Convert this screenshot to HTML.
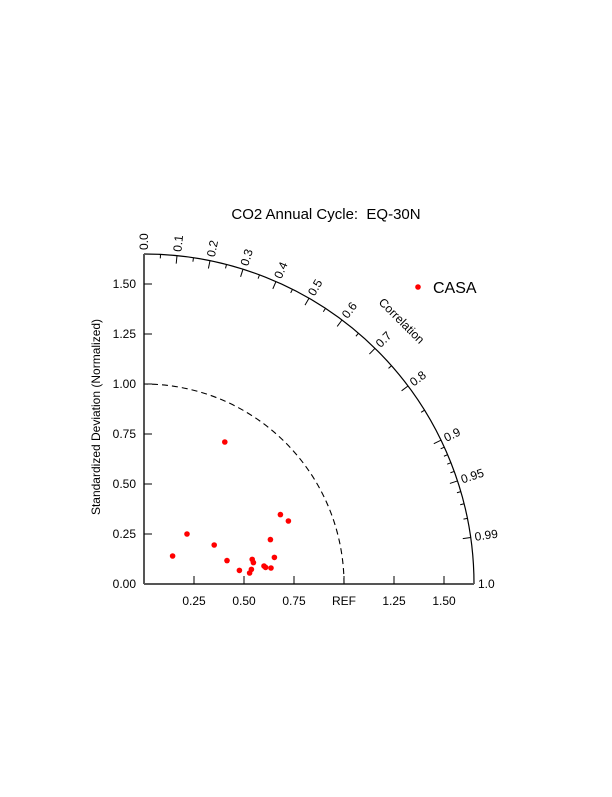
<!DOCTYPE html>
<html><head><meta charset="utf-8"><style>
body{margin:0;background:#fff}
svg text{font-family:"Liberation Sans",Arial,sans-serif;fill:#000}
</style></head><body>
<svg id="c" width="612" height="792" viewBox="0 0 612 792">
<text x="326" y="219" font-size="15" text-anchor="middle">CO2 Annual Cycle:&#160; EQ-30N</text>
<text transform="translate(100,417) rotate(-90)" font-size="12" text-anchor="middle">Standardized Deviation (Normalized)</text>
<text transform="translate(378,303) rotate(45)" font-size="12">Correlation</text>
<circle cx="418" cy="287" r="2.8" fill="#f00"/>
<text x="433" y="293" font-size="16">CASA</text>
<g id="g"></g>
</svg>
<script>
const xs=[0.143,0.215,0.404,0.351,0.415,0.477,0.528,0.537,0.541,0.547,0.600,0.608,0.635,0.632,0.652,0.682,0.722];
const ys=[0.140,0.250,0.710,0.195,0.117,0.068,0.055,0.073,0.123,0.107,0.090,0.083,0.080,0.222,0.133,0.347,0.315];
const stdTicks=[0.25,0.5,0.75,1.0,1.25,1.5];
const stdLabels=["0.25","0.50","0.75","REF","1.25","1.50"];
const yTickLabels=["0.00","0.25","0.50","0.75","1.00","1.25","1.50"];
const corrMajor=[0.0,0.1,0.2,0.3,0.4,0.5,0.6,0.7,0.8,0.9,0.95,0.99,1.0];
const corrMajorLabels=["0.0","0.1","0.2","0.3","0.4","0.5","0.6","0.7","0.8","0.9","0.95","0.99","1.0"];
const corrMinor=[0.05,0.15,0.25,0.35,0.45,0.55,0.65,0.75,0.85,0.91,0.92,0.93,0.94,0.96,0.97,0.98];
const OX=144,OY=584,S=200,RMAX=1.65;
const sx=v=>OX+v*S, sy=v=>OY-v*S;
const g=document.getElementById('g');
const NS='http://www.w3.org/2000/svg';
function mk(t,a){const e=document.createElementNS(NS,t);for(const k in a)e.setAttribute(k,a[k]);g.appendChild(e);return e;}
let e=mk('path',{d:`M${sx(RMAX)},${OY} A${RMAX*S},${RMAX*S} 0 0 0 ${OX},${sy(RMAX)}`,fill:'none',stroke:'#000','stroke-width':1.2});


e=mk('path',{d:`M${sx(1)},${OY} A${S},${S} 0 0 0 ${OX},${sy(1)}`,fill:'none',stroke:'#000','stroke-width':1.1,'stroke-dasharray':'6,4'});


e=mk('line',{x1:OX,y1:OY,x2:OX,y2:sy(RMAX),stroke:'#555','stroke-width':2});


e=mk('line',{x1:OX,y1:OY,x2:sx(RMAX),y2:OY,stroke:'#555','stroke-width':2});


yTickLabels.forEach((l,i)=>{const v=i*0.25;
 if(v>0){e=mk('line',{x1:OX,y1:sy(v),x2:OX+8,y2:sy(v),stroke:'#000','stroke-width':1});
 
 }
 e=mk('text',{x:OX-8,y:sy(v)+4,'font-size':12,'text-anchor':'end'});e.textContent=l;
 
 
});
stdTicks.forEach((v,i)=>{
 e=mk('line',{x1:sx(v),y1:OY,x2:sx(v),y2:OY-8,stroke:'#000','stroke-width':1});
 
 
 e=mk('text',{x:sx(v),y:OY+21,'font-size':12,'text-anchor':'middle'});e.textContent=stdLabels[i];
 
 
});
const R=RMAX*S;
function ang(c){return Math.acos(c);}
corrMajor.forEach((c,i)=>{const t=ang(c),cs=Math.cos(t),sn=Math.sin(t);
 if(c>0&&c<1){e=mk('line',{x1:OX+R*cs,y1:OY-R*sn,x2:OX+(R-8)*cs,y2:OY-(R-8)*sn,stroke:'#000','stroke-width':1});
 
 }
 const rr=R+4;const deg=-t*180/Math.PI;
 e=mk('text',{transform:`translate(${OX+rr*cs},${OY-rr*sn}) rotate(${deg})`,'font-size':12,dy:4});e.textContent=corrMajorLabels[i];
 
 
});
corrMinor.forEach(c=>{const t=ang(c),cs=Math.cos(t),sn=Math.sin(t);
 e=mk('line',{x1:OX+R*cs,y1:OY-R*sn,x2:OX+(R-4)*cs,y2:OY-(R-4)*sn,stroke:'#000','stroke-width':1});
 
 
});
xs.forEach((x,i)=>{
 e=mk('circle',{cx:sx(x),cy:sy(ys[i]),r:2.8,fill:'#f00'});
 
 
});
</script>
</body></html>
